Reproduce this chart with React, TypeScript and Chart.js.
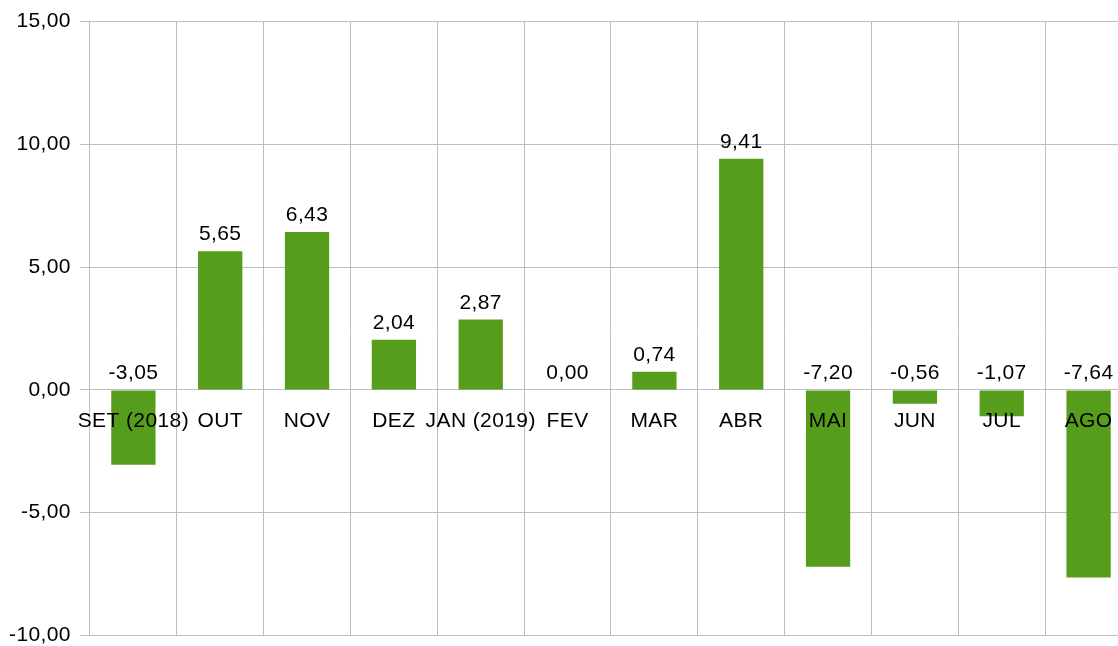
import React, { useEffect, useRef } from "react";
import { Chart, registerables } from "chart.js";

Chart.register(...registerables);

const categories = ["SET (2018)", "OUT", "NOV", "DEZ", "JAN (2019)", "FEV", "MAR", "ABR", "MAI", "JUN", "JUL", "AGO"];
const values = [-3.05, 5.65, 6.43, 2.04, 2.87, 0.0, 0.74, 9.41, -7.2, -0.56, -1.07, -7.64];
const yMin = -10;
const yMax = 15;
const yStep = 5;

const fmt = (v: number) => v.toFixed(2).replace(".", ",");

const GRID = "#bdbdbd";
const BAR = "#579d1c";
const FONT = "'Liberation Sans', Arial, sans-serif";
const FSIZE = 21;
const LS = "0.4px";

const spacing = {
  id: "spacing",
  beforeUpdate(chart: any) {
    chart.ctx.letterSpacing = LS;
  },
  beforeDraw(chart: any) {
    chart.ctx.letterSpacing = LS;
  },
};

const valueLabels = {
  id: "valueLabels",
  afterDatasetsDraw(chart: any) {
    const ctx = chart.ctx;
    const meta = chart.getDatasetMeta(0);
    const yScale = chart.scales.y;
    const zeroY = yScale.getPixelForValue(0);
    ctx.save();
    ctx.font = `${FSIZE}px ${FONT}`;
    ctx.fillStyle = "#000000";
    ctx.textAlign = "center";
    ctx.textBaseline = "bottom";
    meta.data.forEach((bar: any, i: number) => {
      const v = values[i];
      const top = v >= 0 ? bar.y : zeroY;
      ctx.fillText(fmt(v), bar.x, top - 6);
    });
    ctx.restore();
  },
};

export default function App() {
  const ref = useRef<HTMLCanvasElement | null>(null);
  useEffect(() => {
    document.body.style.margin = "0";
    document.body.style.overflow = "hidden";
    const chart = new Chart(ref.current!, {
      type: "bar",
      data: {
        labels: categories,
        datasets: [
          {
            data: values,
            backgroundColor: BAR,
            borderWidth: 0,
            categoryPercentage: 1,
            barPercentage: 0.51,
          },
        ],
      },
      options: {
        animation: false,
        responsive: true,
        maintainAspectRatio: false,
        layout: { padding: { top: 10, left: 0, right: 0, bottom: 0 } },
        plugins: {
          legend: { display: false },
          tooltip: { enabled: false },
        },
        scales: {
          x: {
            position: { y: 0 } as any,
            grid: { color: GRID, lineWidth: 1, tickLength: 10, offset: true },
            border: { color: GRID },
            ticks: {
              z: 1,
              color: "#000000",
              font: { family: FONT, size: FSIZE },
              padding: 9,
              maxRotation: 0,
              autoSkip: false,
            },
          },
          y: {
            min: yMin,
            max: yMax,
            grid: { color: GRID, lineWidth: 1, tickLength: 10 },
            border: { color: GRID },
            ticks: {
              stepSize: yStep,
              color: "#000000",
              font: { family: FONT, size: FSIZE },
              padding: 9,
              callback: (v: any) => fmt(Number(v)),
            },
          },
        },
      },
      plugins: [spacing, valueLabels],
    });
    return () => chart.destroy();
  }, []);
  return (
    <div style={{ position: "fixed", left: 0, top: 0, width: 1118, height: 646, overflow: "hidden" }}>
      <div style={{ position: "absolute", left: 0, top: 0, width: 1132, height: 657 }}>
        <canvas ref={ref} />
      </div>
    </div>
  );
}
